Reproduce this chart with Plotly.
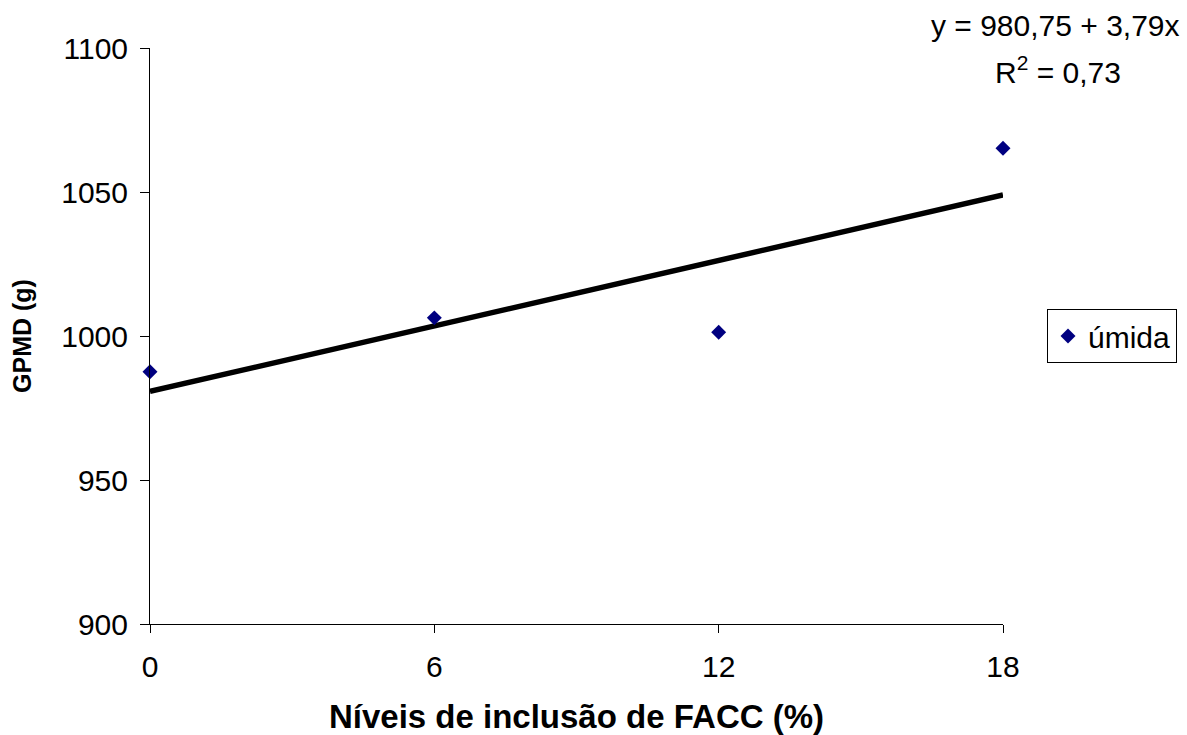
import plotly.graph_objects as go

# Inclusion levels and average daily weight gain
niveis = [0, 6, 12, 18]
gpmd = [987.6, 1006.3, 1001.3, 1065.2]

# Linear regression fitted to the series
intercepto = 980.75
inclinacao = 3.79
r2 = 0.73

x_tick_vals = [0, 6, 12, 18]
y_tick_vals = [900, 950, 1000, 1050, 1100]

FONT = "Liberation Sans"

fig = go.Figure()

fig.add_trace(go.Scatter(
    x=[niveis[0], niveis[-1]],
    y=[intercepto + inclinacao * niveis[0], intercepto + inclinacao * niveis[-1]],
    mode="lines",
    line=dict(color="black", width=5.5),
    showlegend=False,
    hoverinfo="skip",
))

fig.add_trace(go.Scatter(
    x=niveis, y=gpmd,
    mode="markers",
    name="úmida",
    marker=dict(symbol="diamond", size=11.5, color="#000080"),
    cliponaxis=False,
))

fig.update_layout(
    width=1187, height=735,
    margin=dict(l=150, r=184, t=48, b=111, autoexpand=False),
    paper_bgcolor="white", plot_bgcolor="white",
    font=dict(family=FONT, size=30, color="black"),
    showlegend=True,
    legend=dict(
        x=1.0516, y=0.5, xanchor="left", yanchor="middle",
        bordercolor="black", borderwidth=1,
        font=dict(family=FONT, size=30, color="black"),
        itemwidth=30, tracegroupgap=0,
    ),
    xaxis=dict(
        range=[0, 18], tickvals=x_tick_vals,
        showgrid=False, zeroline=False, automargin=False,
        showline=True, linecolor="black", linewidth=1,
        ticks="outside", ticklen=8, tickcolor="black", tickwidth=1,
        tickfont=dict(family=FONT, size=30),
        ticklabelstandoff=8,
        title=dict(text="<b>Níveis de inclusão de FACC (%)</b>",
                   font=dict(family=FONT, size=33), standoff=32),
    ),
    yaxis=dict(
        range=[900, 1100], tickvals=y_tick_vals,
        showgrid=False, zeroline=False, automargin=False,
        showline=True, linecolor="black", linewidth=1,
        ticks="outside", ticklen=9, tickcolor="black", tickwidth=1,
        tickfont=dict(family=FONT, size=30),
        ticklabelstandoff=6,
        title=dict(text="<b>GPMD (g)</b>",
                   font=dict(family=FONT, size=25), standoff=22),
    ),
    annotations=[
        dict(
            text=f"y = {intercepto:.2f} + {inclinacao:.2f}x".replace(".", ","),
            xref="paper", yref="paper", x=1.0615, y=1.039,
            xanchor="center", yanchor="middle", showarrow=False,
            font=dict(family=FONT, size=30, color="black"),
        ),
        dict(
            text=f"R<sup>2</sup> = {r2:.2f}".replace(".", ","),
            xref="paper", yref="paper", x=1.0645, y=0.961,
            xanchor="center", yanchor="middle", showarrow=False,
            font=dict(family=FONT, size=30, color="black"),
        ),
    ],
)

fig.write_html("out.html")
